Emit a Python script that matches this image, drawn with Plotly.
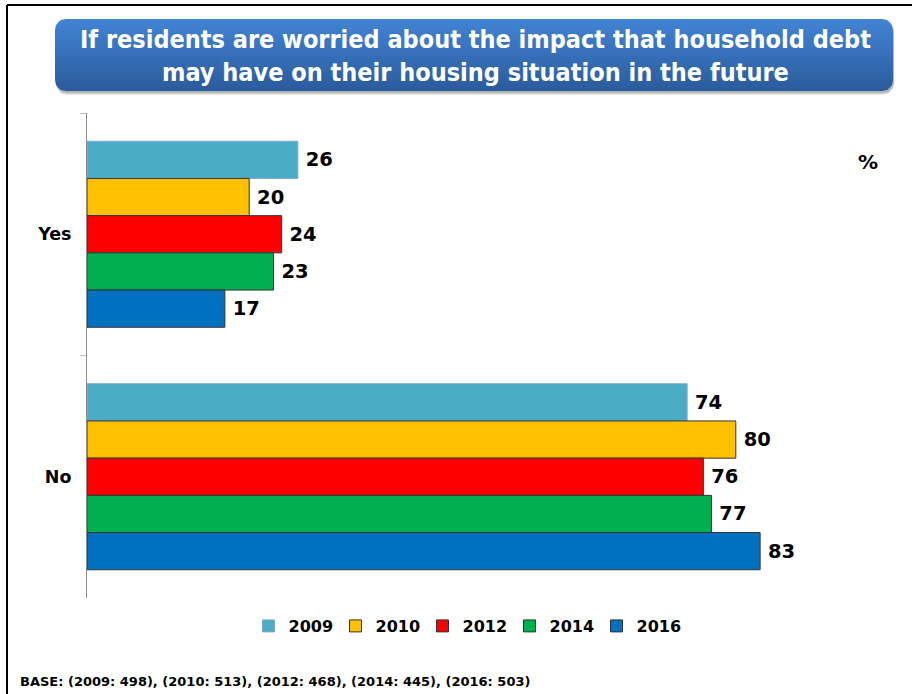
import math
import plotly.graph_objects as go

# Survey results (%)
categories = ["Yes", "No"]
years = ["2009", "2010", "2012", "2014", "2016"]
values = {
    "2009": [26, 74],
    "2010": [20, 80],
    "2012": [24, 76],
    "2014": [23, 77],
    "2016": [17, 83],
}
colors = {
    "2009": "#4bacc6",
    "2010": "#ffc000",
    "2012": "#ff0000",
    "2014": "#00b050",
    "2016": "#0070c0",
}
outlines = {
    "2009": "#7ea6d6",
    "2010": "#333333",
    "2012": "#333333",
    "2014": "#333333",
    "2016": "#333333",
}
title_lines = [
    "If residents are worried about the impact that household debt",
    "may have on their housing situation in the future",
]
base_note = "BASE: (2009: 498), (2010: 513), (2012: 468), (2014: 445), (2016: 503)"

W, H = 918, 694
FONT = "DejaVu Sans"

fig = go.Figure()

for yr in years:
    fig.add_trace(go.Bar(
        y=categories,
        x=values[yr],
        name=yr,
        orientation="h",
        marker=dict(color=colors[yr], line=dict(color=outlines[yr], width=1)),
        text=values[yr],
        texttemplate="\u2005%{x}",
        textposition="outside",
        textfont=dict(family=FONT, size=19.5, color="black", weight="bold"),
        cliponaxis=False,
        xaxis="x", yaxis="y",
    ))


def rounded_rect(x0, y0, x1, y1, r, n=8):
    xs, ys = [], []
    corners = [(x1 - r, y0 + r, -90, 0), (x1 - r, y1 - r, 0, 90),
               (x0 + r, y1 - r, 90, 180), (x0 + r, y0 + r, 180, 270)]
    for cx, cy, a0, a1 in corners:
        for i in range(n + 1):
            a = math.radians(a0 + (a1 - a0) * i / n)
            xs.append(cx + r * math.cos(a))
            ys.append(cy + r * math.sin(a))
    xs.append(xs[0])
    ys.append(ys[0])
    return xs, ys


# soft shadow under the title banner
for k, op in [(4, 0.10), (3, 0.14), (2, 0.18)]:
    sx, sy = rounded_rect(55 + 1, 19 + k, 893 + 1, 91 + k, 11)
    fig.add_trace(go.Scatter(
        x=sx, y=sy, mode="lines", fill="toself",
        line=dict(width=0), fillcolor=f"rgba(60,60,60,{op})",
        hoverinfo="skip", showlegend=False, xaxis="x2", yaxis="y2",
    ))

# title banner with vertical gradient (lighter at the top)
bx, by = rounded_rect(55, 19, 893, 91, 11)
fig.add_trace(go.Scatter(
    x=bx, y=by, mode="lines", fill="toself",
    line=dict(width=0, color="#3a78c6"),
    fillgradient=dict(type="vertical",
                      colorscale=[[0, "#2a5b9c"], [1, "#4284d4"]]),
    hoverinfo="skip", showlegend=False, xaxis="x2", yaxis="y2",
))

fig.update_layout(
    width=W, height=H,
    margin=dict(l=0, r=0, t=0, b=0),
    paper_bgcolor="white", plot_bgcolor="rgba(0,0,0,0)",
    barmode="group", bargap=0.233, bargroupgap=0,
    font=dict(family=FONT, color="black"),
    xaxis=dict(domain=[87 / W, 898 / W], range=[0, 100], visible=False,
               anchor="y", fixedrange=True),
    yaxis=dict(domain=[96 / H, 581 / H], range=[1.5, -0.5],
               type="category", anchor="x",
               showline=True, linecolor="#8c8c8c", linewidth=1,
               ticks="outside", ticklen=6, tickcolor="#bdbdbd",
               tickson="boundaries", showgrid=False, zeroline=False,
               ticklabelstandoff=11,
               tickfont=dict(family=FONT, size=17.5, color="black", weight="bold")),
    xaxis2=dict(domain=[0, 1], range=[0, W], visible=False, anchor="y2",
                fixedrange=True),
    yaxis2=dict(domain=[0, 1], range=[H, 0], visible=False, anchor="x2",
                fixedrange=True),
    showlegend=True,
    legend=dict(orientation="h", x=466 / W, y=1 - 626 / H,
                xanchor="center", yanchor="middle",
                font=dict(family=FONT, size=16, color="black", weight="bold"),
                itemwidth=30, entrywidth=42, tracegroupgap=0,
                bgcolor="rgba(0,0,0,0)"),
)

# page frame (left and top edges)
fig.add_shape(type="line", xref="paper", yref="paper",
              x0=7 / W, x1=7 / W, y0=0, y1=1 - 5 / H,
              line=dict(color="black", width=2))
fig.add_shape(type="line", xref="paper", yref="paper",
              x0=7 / W, x1=912 / W, y0=1 - 5 / H, y1=1 - 5 / H,
              line=dict(color="black", width=2))

fig.add_annotation(
    xref="paper", yref="paper", x=475 / W, y=1 - 56 / H,
    text="<br>".join(title_lines), showarrow=False,
    xanchor="center", yanchor="middle", align="center",
    font=dict(family="DejaVu Sans Condensed, DejaVu Sans", size=25,
              color="white", weight="bold"),
)
fig.add_annotation(
    xref="paper", yref="paper", x=868 / W, y=1 - 162 / H,
    text="%", showarrow=False, xanchor="center", yanchor="middle",
    font=dict(family=FONT, size=20, color="black", weight="bold"),
)
fig.add_annotation(
    xref="paper", yref="paper", x=18 / W, y=1 - 681 / H,
    text=base_note, showarrow=False, xanchor="left", yanchor="middle",
    font=dict(family=FONT, size=13, color="black", weight="bold"),
)

fig.write_html("out.html")
